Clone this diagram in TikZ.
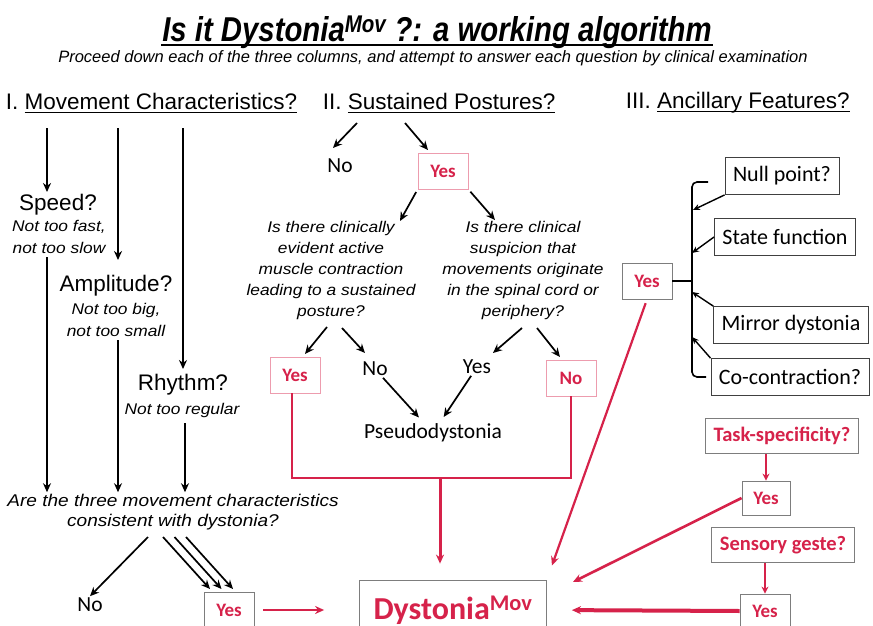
\documentclass[tikz,border=0pt]{standalone}
\usepackage{fontspec}
\setmainfont{Liberation Sans}
\newfontfamily\narrowsans[FakeStretch=0.85]{Liberation Sans}
\newfontfamily\widesans[FakeStretch=1.12]{Liberation Sans}
\newfontfamily\calsans{Carlito}
\usetikzlibrary{arrows.meta}
\definecolor{dysred}{RGB}{214,34,74}
\definecolor{boxgray}{RGB}{125,125,125}
\newcommand{\headul}[1]{\setbox0\hbox{#1}\rlap{\rule[-3.5pt]{\wd0}{1.4pt}}\box0}

\begin{document}
\begin{tikzpicture}
            [x=1pt, y=-1pt, >={Stealth[length=9pt,width=8pt]}, line width=1.7pt,
             arr/.style={->},
             smallarr/.style={->, >={Stealth[length=7pt,width=6pt]}, line width=1.4pt},
             redarr/.style={->, dysred, line width=2.2pt},
             redline/.style={dysred, line width=2pt},
             heading/.style={anchor=west, inner sep=0pt, font=\fontsize{22.5}{24}\selectfont},
             term/.style={inner sep=1pt, font=\fontsize{22.5}{24}\selectfont},
             hint/.style={inner sep=1pt, align=center, font=\widesans\itshape\fontsize{15.5}{22}\selectfont},
             query/.style={inner sep=1pt, align=center, font=\widesans\itshape\fontsize{15.5}{21}\selectfont},
             answer/.style={inner sep=1pt, font=\calsans\fontsize{21.5}{24}\selectfont},
             yesbox/.style={draw=boxgray, line width=0.8pt, text=dysred, minimum width=50pt, minimum height=36pt, inner sep=2pt, font=\calsans\bfseries\fontsize{19}{20}\selectfont},
             featbox/.style={draw=black!75, line width=0.8pt, minimum height=37pt, inner xsep=8pt, font=\calsans\fontsize{22}{24}\selectfont},
             redbox/.style={featbox, draw=boxgray, text=dysred, minimum height=35pt, font=\calsans\bfseries\fontsize{20.5}{22}\selectfont}]
            \fill[white] (0,0) rectangle (873,626);
            \useasboundingbox (0,0) rectangle (873,626);

            % title and column headings
            \node[inner sep=0pt, font=\narrowsans\bfseries\itshape\fontsize{34.5}{36}\selectfont] (title) at (437,32) {Is it Dystonia\textsuperscript{Mov} ?: a working algorithm};
            \draw[line width=2.4pt] ([yshift=-4pt]title.base west) -- ([yshift=-4pt]title.base east);
            \node[inner sep=0pt, font=\itshape\fontsize{16.5}{18}\selectfont] (subtitle) at (433,58) {Proceed down each of the three columns, and attempt to answer each question by clinical examination};
            \node[heading] (headI) at (5,103) {I. \headul{Movement Characteristics?}};
            \node[heading] (headII) at (322,103) {II. \headul{Sustained Postures?}};
            \node[heading] (headIII) at (625,103) {III. \headul{Ancillary Features?}};

            % I. movement characteristics
            \node[term] (speed) at (58,205) {Speed?};
            \node[hint] (speedhint) at (59,237) {Not too fast,\\not too slow};
            \node[term] (amp) at (116,286) {Amplitude?};
            \node[hint] (amphint) at (116,320) {Not too big,\\not too small};
            \node[term] (rhythm) at (183,385) {Rhythm?};
            \node[hint] (rhythmhint) at (182,410) {Not too regular};
            \node[hint, font=\widesans\itshape\fontsize{17}{20}\selectfont] (movq) at (173,512) {Are the three movement characteristics\\consistent with dystonia?};
            \node[answer] (noM) at (90,605) {No};
            \node[yesbox] (yesM) at (229,610) {Yes};

            \coordinate (topspeed) at (47,128);
            \coordinate (speedin) at (47,192);
            \coordinate (topamp) at (118,128);
            \coordinate (ampin) at (118,260);
            \coordinate (toprhythm) at (183,128);
            \coordinate (rhythmin) at (183,369);
            \coordinate (speedout) at (47,257);
            \coordinate (ampout) at (118,340);
            \coordinate (rhythmout) at (185,423);
            \coordinate (movqno) at (148,537);
            \coordinate (movqyes) at (163,537);
            \coordinate (yesMin) at (210,589);

            \draw[arr] (topspeed) -- (speedin);
            \draw[arr] (topamp) -- (ampin);
            \draw[arr] (toprhythm) -- (rhythmin);
            \draw[arr] (speedout) -- (speedout |- movq.north);
            \draw[arr] (ampout) -- (ampout |- movq.north);
            \draw[arr] (rhythmout) -- (rhythmout |- movq.north);
            \draw[arr] (movqno) -- (noM.north);
            \foreach \dx in {0,11.5,23}
                \draw[arr] ([xshift=\dx pt]movqyes) -- ([xshift=\dx pt]yesMin);

            % II. sustained postures
            \node[answer] (noA) at (340,166) {No};
            \node[yesbox, draw=dysred!45] (yesP) at (443,171) {Yes};
            \node[query] (qmuscle) at (331,270) {Is there clinically\\evident active\\muscle contraction\\leading to a sustained\\posture?};
            \node[query] (qspinal) at (523,270) {Is there clinical\\suspicion that\\movements originate\\in the spinal cord or\\periphery?};
            \node[yesbox, draw=dysred!45] (yesL) at (295,375) {Yes};
            \node[answer] (noL) at (375,369) {No};
            \node[answer] (yesR) at (477,367) {Yes};
            \node[yesbox, draw=dysred!45] (noR) at (571,378) {No};
            \node[answer] (pseudo) at (433,433) {Pseudodystonia};

            \coordinate (postl) at (357,123);
            \coordinate (postr) at (405,123);
            \coordinate (noAin) at (333,148);
            \coordinate (yesPin) at (428,150);
            \coordinate (qmusclein) at (400,221);
            \coordinate (qspinalin) at (495,220);
            \coordinate (muscleyes) at (327,327);
            \coordinate (muscleno) at (342,328);
            \coordinate (yesLin) at (305,354);
            \coordinate (noLin) at (365,353);
            \coordinate (spinalyes) at (522,328);
            \coordinate (spinalno) at (537,328);
            \coordinate (yesRin) at (493,353);
            \coordinate (noRin) at (560,357);
            \coordinate (redjoin) at (440,478);

            \draw[arr] (postl) -- (noAin);
            \draw[arr] (postr) -- (yesPin);
            \draw[arr, shorten <=3pt] (yesP.south west) -- (qmusclein);
            \draw[arr, shorten <=3pt] (yesP.south east) -- (qspinalin);
            \draw[arr] (muscleyes) -- (yesLin);
            \draw[arr] (muscleno) -- (noLin);
            \draw[arr] (spinalyes) -- (yesRin);
            \draw[arr] (spinalno) -- (noRin);
            \draw[arr, shorten >=6pt] (noL) -- (pseudo);
            \draw[arr, shorten >=6pt] (yesR) -- (pseudo);

            % III. ancillary features
            \node[yesbox] (yesA) at (647,281) {Yes};
            \node[featbox] (nullpt) at (782,176) {Null point?};
            \node[featbox] (statefn) at (785,237) {State function};
            \node[featbox] (mirror) at (791,325) {Mirror dystonia};
            \node[featbox] (cocon) at (790,377) {Co-contraction?};
            \node[redbox] (task) at (782,436) {Task-specificity?};
            \node[yesbox, minimum height=34pt, minimum width=48pt] (yesB) at (766,498) {Yes};
            \node[redbox] (geste) at (783,545) {Sensory geste?};
            \node[yesbox, minimum height=34pt] (yesC) at (765,611) {Yes};

            \coordinate (brtop) at (708,182);
            \coordinate (brmid) at (692,281);
            \coordinate (brbot) at (706,377);
            \coordinate (nullin) at (693,210);
            \coordinate (statein) at (692,253);
            \coordinate (mirrorin) at (692,292);
            \coordinate (coconin) at (692,337);

            \draw[line width=1.6pt, rounded corners=5pt] (brtop) -- (brtop -| brmid) -- (brbot -| brmid) -- (brbot);
            \draw[line width=1.6pt] (yesA.east) -- (brmid);
            \draw[smallarr] (nullpt.south west) -- (nullin);
            \draw[smallarr] (statefn.west) -- (statein);
            \draw[smallarr] (mirror.north west) -- (mirrorin);
            \draw[smallarr] (cocon.north west) -- (coconin);

            % Dystonia^Mov and the red paths into it
            \node[draw=boxgray, line width=0.8pt, minimum width=187pt, minimum height=60pt, text=dysred, font=\calsans\bfseries\fontsize{32}{34}\selectfont] (dyst) at (453,610) {Dystonia\textsuperscript{Mov}};
            \coordinate (dystin) at (573,582);

            \draw[redline] (yesL.south -| 292,0) |- (noR.south |- redjoin) -- (noR.south);
            \draw[redarr, line width=3pt, shorten >=16pt] (redjoin) -- (redjoin |- dyst.north);
            \draw[redarr, shorten <=9pt, shorten >=35pt] (yesM.east) -- (yesM.east -| dyst.west);
            \draw[redarr, shorten <=4pt, shorten >=15pt] (yesA.south) -- (dyst.north east);
            \draw[redarr, line width=1.8pt, >={Stealth[length=7pt,width=7pt]}] (yesB |- task.south) -- (yesB.north);
            \draw[redarr, line width=1.8pt, >={Stealth[length=7pt,width=7pt]}] (yesC |- geste.south) -- (yesC.north);
            \draw[redarr, line width=2.6pt] (yesB.west) -- (dystin);
            \draw[redarr, line width=4pt, shorten >=25pt] (yesC.west) -- (dyst.east);
\end{tikzpicture}
\end{document}
